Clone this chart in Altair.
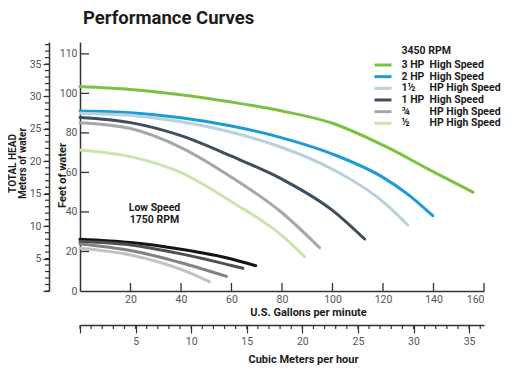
import altair as alt
import pandas as pd

# ---------------- data ----------------
series_names = [
    "3 HP High Speed", "2 HP High Speed", "1½ HP High Speed", "1 HP High Speed",
    "¾ HP High Speed", "½ HP High Speed",
    "Low Speed 1", "Low Speed 2", "Low Speed 3", "Low Speed 4",
]
series_colors = [
    "#7cc242", "#1b9bd7", "#b9d0dd", "#3d4e5e", "#a7a7a7", "#cbe4ac",
    "#141414", "#505050", "#828282", "#c3c3c3",
]

# U.S. gallons per minute / feet of water
hp3_gpm = [0, 20, 40, 60, 80, 100, 120, 140, 155.6]
hp3_ft = [103.5, 102.0, 99.3, 95.6, 91.1, 84.9, 73.8, 60.3, 50.0]
hp2_gpm = [0, 20, 40, 60, 80, 100, 120, 130, 139.7]
hp2_ft = [91.1, 90.2, 87.7, 83.5, 77.5, 69.3, 57.5, 48.8, 38.1]
hp15_gpm = [0, 20, 40, 60, 80, 100, 120, 129.8]
hp15_ft = [90.0, 88.9, 85.6, 80.3, 72.6, 61.6, 45.2, 33.4]
hp1_gpm = [0, 20, 40, 60, 80, 100, 112.7]
hp1_ft = [87.8, 85.2, 78.6, 68.2, 56.6, 40.8, 26.3]
hp075_gpm = [0, 20, 40, 60, 80, 94.9]
hp075_ft = [85.2, 82.2, 72.6, 57.6, 39.6, 21.9]
hp05_gpm = [0, 20, 40, 60, 80, 88.9]
hp05_ft = [71.4, 68.0, 59.9, 45.2, 28.0, 17.4]

low1_gpm = [0, 20, 40, 60, 69.6]
low1_ft = [26.2, 24.5, 21.1, 16.2, 12.8]
low2_gpm = [0, 20, 40, 60, 64.5]
low2_ft = [25.0, 23.3, 18.8, 12.9, 11.5]
low3_gpm = [0, 20, 40, 58.0]
low3_ft = [23.8, 20.5, 14.3, 7.4]
low4_gpm = [0, 20, 40, 51.2]
low4_ft = [21.6, 18.2, 10.9, 4.7]

gpm_ticks = [20, 40, 60, 80, 100, 120, 140, 160]
ft_ticks = [0, 20, 40, 60, 80, 100, 120]
meter_major = [0, 5, 10, 15, 20, 25, 30, 35]
meter_minor = list(range(0, 39))
cmh_major = [0, 5, 10, 15, 20, 25, 30, 35]
cmh_minor = list(range(0, 37))

legend_series = series_names[:6]
legend_col1 = ["3 HP", "2 HP", "1½", "1 HP", "¾", "½"]
legend_col2 = ["High Speed", "High Speed", "HP High Speed", "High Speed",
               "HP High Speed", "HP High Speed"]
rpm_title = ["3450 RPM"]
low_speed_label = ["Low Speed", "1750 RPM"]

# ---------------- layout ----------------
W, H = 404, 249
GPM_MAX = 160
FT_MAX = 126
M_MAX = FT_MAX / 3.28084
CMH_MAX = GPM_MAX * 0.227125
FONT = "Roboto"
LABEL_COLOR = "#555555"
DARK = "#1c1c1c"

series_data = [
    (series_names[0], hp3_gpm, hp3_ft), (series_names[1], hp2_gpm, hp2_ft),
    (series_names[2], hp15_gpm, hp15_ft), (series_names[3], hp1_gpm, hp1_ft),
    (series_names[4], hp075_gpm, hp075_ft), (series_names[5], hp05_gpm, hp05_ft),
    (series_names[6], low1_gpm, low1_ft), (series_names[7], low2_gpm, low2_ft),
    (series_names[8], low3_gpm, low3_ft), (series_names[9], low4_gpm, low4_ft),
]
rows = []
for name, xs, ys in series_data:
    for gx, fy in zip(xs, ys):
        rows.append({"series": name, "gpm": gx, "ft": fy})
curves_df = pd.DataFrame(rows)

color_scale = alt.Scale(domain=series_names, range=series_colors)

curves = alt.Chart(curves_df).mark_line(
    strokeWidth=3, interpolate="monotone", strokeCap="round"
).encode(
    x=alt.X("gpm:Q", scale=alt.Scale(domain=[0, GPM_MAX], nice=False, zero=True),
            axis=alt.Axis(orient="bottom", values=gpm_ticks, ticks=False, grid=False,
                          labelPadding=3, labelFontSize=10.5, labelColor=LABEL_COLOR,
                          labelFont=FONT, domainColor="#333333", domainWidth=1.5,
                          title="U.S. Gallons per minute", titleFont=FONT,
                          titleFontSize=11, titleFontWeight="bold", titleColor=DARK,
                          titleX=228, titleY=21, titleBaseline="middle",
                          titleAlign="center")),
    y=alt.Y("ft:Q", scale=alt.Scale(domain=[0, FT_MAX], nice=False),
            axis=alt.Axis(orient="left", values=ft_ticks, ticks=False, grid=False,
                          labelExpr="datum.value == 120 ? '110' : datum.label",
                          labelPadding=3, labelFontSize=10.5, labelColor=LABEL_COLOR,
                          labelFont=FONT, domainColor="#333333", domainWidth=1.5,
                          title="Feet of water", titleFont=FONT, titleFontSize=11,
                          titleFontWeight="bold", titleColor=DARK, titleAngle=-90,
                          titleX=-18, titleY=133, titleBaseline="middle",
                          titleAlign="center")),
    color=alt.Color("series:N", scale=color_scale, legend=None),
    detail="series:N",
)

gpm_inner = alt.Chart(pd.DataFrame({"v": gpm_ticks})).mark_rule(
    color="#333333", strokeWidth=1.3
).encode(
    x=alt.X("v:Q", scale=alt.Scale(domain=[0, GPM_MAX], nice=False), axis=None),
    y=alt.value(H), y2=alt.value(H - 8),
)

ft_inner = alt.Chart(pd.DataFrame({"v": ft_ticks[1:]})).mark_rule(
    color="#333333", strokeWidth=1.3
).encode(
    y=alt.Y("v:Q", scale=alt.Scale(domain=[0, FT_MAX], nice=False), axis=None),
    x=alt.value(0), x2=alt.value(9),
)

meters = alt.Chart(pd.DataFrame({"m": meter_minor})).mark_rule(
    color="#333333", strokeWidth=1.2
).encode(
    y=alt.Y("m:Q", scale=alt.Scale(domain=[0, M_MAX], nice=False),
            axis=alt.Axis(orient="left", offset=31, values=meter_major, tickSize=6,
                          tickWidth=1.2, tickColor="#333333", grid=False,
                          labelExpr="datum.value == 0 ? '' : datum.label",
                          labelPadding=2, labelFontSize=10.5, labelColor=LABEL_COLOR,
                          labelFont=FONT, domainColor="#333333", domainWidth=1.5,
                          title=["TOTAL HEAD", "Meters of water"], titleFont=FONT,
                          titleFontSize=10, titleFontWeight="bold", titleColor=DARK,
                          titleAngle=-90, titleX=-36.5, titleY=121,
                          titleLineHeight=10, titleBaseline="middle",
                          titleAlign="center")),
    x=alt.value(-35), x2=alt.value(-31),
)

cmh = alt.Chart(pd.DataFrame({"c": cmh_minor})).mark_rule(
    color="#333333", strokeWidth=1.2
).encode(
    x=alt.X("c:Q", scale=alt.Scale(domain=[0, CMH_MAX], nice=False),
            axis=alt.Axis(orient="bottom", offset=34, values=cmh_major, tickSize=8,
                          tickWidth=1.2, tickColor="#333333", grid=False,
                          labelExpr="datum.value == 0 ? '' : datum.label",
                          labelPadding=3, labelFontSize=10.5, labelColor=LABEL_COLOR,
                          labelFont=FONT, domainColor="#333333", domainWidth=1.5,
                          title="Cubic Meters per hour", titleFont=FONT,
                          titleFontSize=11, titleFontWeight="bold", titleColor=DARK,
                          titleX=223, titleY=34, titleBaseline="middle",
                          titleAlign="center")),
    y=alt.value(H + 34), y2=alt.value(H + 38),
)

legend_df = pd.DataFrame({"series": legend_series, "c1": legend_col1, "c2": legend_col2})
legend_y = alt.Y("series:N", scale=alt.Scale(type="point", domain=legend_series,
                                             range=[23, 81.3], padding=0), axis=None)

leg_swatch = alt.Chart(legend_df).mark_rule(strokeWidth=3).encode(
    y=legend_y, x=alt.value(294.5), x2=alt.value(311.5),
    color=alt.Color("series:N", scale=color_scale, legend=None),
)
leg_c1 = alt.Chart(legend_df).mark_text(
    align="left", baseline="middle", font=FONT, fontSize=10.5, fontWeight="bold",
    color=DARK
).encode(y=legend_y, x=alt.value(321.5), text="c1:N")
leg_c2 = alt.Chart(legend_df).mark_text(
    align="left", baseline="middle", font=FONT, fontSize=10.5, fontWeight="bold",
    color=DARK
).encode(y=legend_y, x=alt.value(349.5), text="c2:N")

rpm = alt.Chart(pd.DataFrame({"t": rpm_title})).mark_text(
    align="left", baseline="middle", font=FONT, fontSize=10.5, fontWeight="bold",
    color=DARK
).encode(x=alt.value(321.5), y=alt.value(8.7), text="t:N")

low_txt = alt.Chart(pd.DataFrame({"t": [0]})).mark_text(
    align="center", baseline="middle", font=FONT, fontSize=10.5, fontWeight="bold",
    color=DARK, text=low_speed_label, lineHeight=12
).encode(x=alt.value(74.5), y=alt.value(166))

chart = alt.layer(
    curves, gpm_inner, ft_inner, meters, cmh, leg_swatch, leg_c1, leg_c2, rpm, low_txt
).resolve_scale(
    x="independent", y="independent"
).resolve_axis(
    x="independent", y="independent"
).properties(
    width=W, height=H,
    autosize=alt.AutoSizeParams(type="none"),
    padding={"left": 72, "top": 34, "right": 20, "bottom": 75},
    title=alt.TitleParams("Performance Curves", anchor="start", frame="group",
                          offset=15, dx=3, font=FONT, fontSize=18.5,
                          fontWeight="bold", color=DARK),
).configure_view(stroke=None)

chart.save("out.html", embed_options={"renderer": "svg", "actions": False})
